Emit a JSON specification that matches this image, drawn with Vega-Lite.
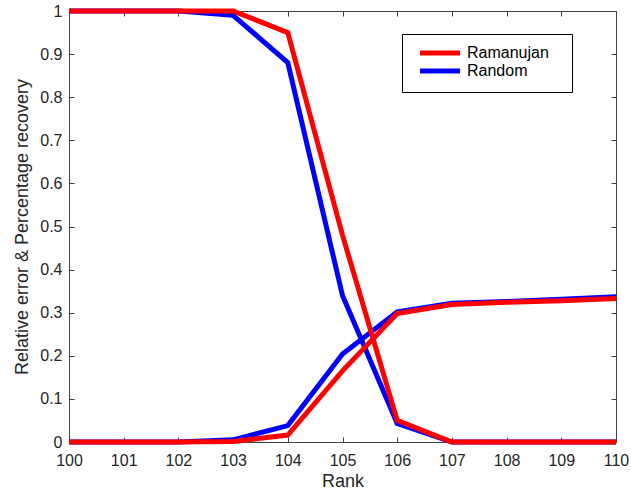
{
  "$schema": "https://vega.github.io/schema/vega-lite/v6.json",
  "width": 547,
  "height": 431,
  "autosize": {"type": "none"},
  "padding": {"left": 69, "top": 11, "right": 15, "bottom": 54},
  "background": "white",
  "config": {
    "view": {"stroke": "#404040", "strokeWidth": 1},
    "font": "Liberation Sans",
    "axis": {
      "grid": false,
      "domainColor": "#404040",
      "tickColor": "#404040",
      "tickSize": -5,
      "labelFlush": false,
      "labelFont": "Liberation Sans",
      "titleFont": "Liberation Sans",
      "labelFontSize": 16,
      "titleFontSize": 18,
      "labelColor": "#262626",
      "titleColor": "#262626",
      "titleFontWeight": "normal"
    }
  },
  "data": {
    "values": [
      {"rank": 100, "method": "Ramanujan", "metric": "recovery", "value": 1},
      {"rank": 101, "method": "Ramanujan", "metric": "recovery", "value": 1},
      {"rank": 102, "method": "Ramanujan", "metric": "recovery", "value": 1},
      {"rank": 103, "method": "Ramanujan", "metric": "recovery", "value": 1},
      {"rank": 104, "method": "Ramanujan", "metric": "recovery", "value": 0.95},
      {"rank": 105, "method": "Ramanujan", "metric": "recovery", "value": 0.48},
      {"rank": 106, "method": "Ramanujan", "metric": "recovery", "value": 0.05},
      {"rank": 107, "method": "Ramanujan", "metric": "recovery", "value": 0},
      {"rank": 108, "method": "Ramanujan", "metric": "recovery", "value": 0},
      {"rank": 109, "method": "Ramanujan", "metric": "recovery", "value": 0},
      {"rank": 110, "method": "Ramanujan", "metric": "recovery", "value": 0},
      {"rank": 100, "method": "Random", "metric": "recovery", "value": 1},
      {"rank": 101, "method": "Random", "metric": "recovery", "value": 1},
      {"rank": 102, "method": "Random", "metric": "recovery", "value": 1},
      {"rank": 103, "method": "Random", "metric": "recovery", "value": 0.99},
      {"rank": 104, "method": "Random", "metric": "recovery", "value": 0.88},
      {"rank": 105, "method": "Random", "metric": "recovery", "value": 0.34},
      {"rank": 106, "method": "Random", "metric": "recovery", "value": 0.043},
      {"rank": 107, "method": "Random", "metric": "recovery", "value": 0},
      {"rank": 108, "method": "Random", "metric": "recovery", "value": 0},
      {"rank": 109, "method": "Random", "metric": "recovery", "value": 0},
      {"rank": 110, "method": "Random", "metric": "recovery", "value": 0},
      {"rank": 100, "method": "Ramanujan", "metric": "error", "value": 0},
      {"rank": 101, "method": "Ramanujan", "metric": "error", "value": 0},
      {"rank": 102, "method": "Ramanujan", "metric": "error", "value": 0},
      {"rank": 103, "method": "Ramanujan", "metric": "error", "value": 0.001},
      {"rank": 104, "method": "Ramanujan", "metric": "error", "value": 0.016},
      {"rank": 105, "method": "Ramanujan", "metric": "error", "value": 0.165},
      {"rank": 106, "method": "Ramanujan", "metric": "error", "value": 0.298},
      {"rank": 107, "method": "Ramanujan", "metric": "error", "value": 0.319},
      {"rank": 108, "method": "Ramanujan", "metric": "error", "value": 0.324},
      {"rank": 109, "method": "Ramanujan", "metric": "error", "value": 0.328},
      {"rank": 110, "method": "Ramanujan", "metric": "error", "value": 0.333},
      {"rank": 100, "method": "Random", "metric": "error", "value": 0},
      {"rank": 101, "method": "Random", "metric": "error", "value": 0},
      {"rank": 102, "method": "Random", "metric": "error", "value": 0},
      {"rank": 103, "method": "Random", "metric": "error", "value": 0.005},
      {"rank": 104, "method": "Random", "metric": "error", "value": 0.038},
      {"rank": 105, "method": "Random", "metric": "error", "value": 0.204},
      {"rank": 106, "method": "Random", "metric": "error", "value": 0.302},
      {"rank": 107, "method": "Random", "metric": "error", "value": 0.322},
      {"rank": 108, "method": "Random", "metric": "error", "value": 0.326},
      {"rank": 109, "method": "Random", "metric": "error", "value": 0.331},
      {"rank": 110, "method": "Random", "metric": "error", "value": 0.337}
    ]
  },
  "resolve": {"axis": {"x": "independent", "y": "independent"}},
  "layer": [
    {
      "transform": [{"filter": "datum.method === 'Random'"}],
      "mark": {"type": "line", "strokeWidth": 5, "strokeJoin": "miter", "clip": false},
      "encoding": {
        "x": {"field": "rank", "type": "quantitative", "scale": {"domain": [100, 110], "nice": false, "zero": false},
              "axis": {"orient": "bottom", "values": [100,101,102,103,104,105,106,107,108,109,110], "format": "d", "title": "Rank", "labelPadding": 15, "titlePadding": 4}},
        "y": {"field": "value", "type": "quantitative", "scale": {"domain": [0, 1], "nice": false},
              "axis": {"orient": "left", "values": [0,0.1,0.2,0.3,0.4,0.5,0.6,0.7,0.8,0.9,1], "labelExpr": "datum.value == 0 ? '0' : datum.value == 1 ? '1' : format(datum.value, '.1f')", "title": "Relative error & Percentage recovery", "labelPadding": 12, "titlePadding": 8}},
        "color": {"field": "method", "type": "nominal",
                  "scale": {"domain": ["Ramanujan", "Random"], "range": ["#ff0000", "#0000ff"]},
                  "legend": {"title": null, "orient": "none", "legendX": 333, "legendY": 23,
                             "symbolType": "M-0.2,0H7.8", "symbolStrokeWidth": 5, "symbolSize": 100,
                             "labelFontSize": 16, "labelFont": "Liberation Sans", "labelColor": "#000000",
                             "labelExpr": "datum.label + '\u2800'",
                             "strokeColor": "#000000", "fillColor": "white", "padding": 11, "rowPadding": -3, "labelOffset": 38, "cornerRadius": 0}},
        "detail": {"field": "metric"}
      }
    },
    {
      "transform": [{"filter": "datum.method === 'Ramanujan'"}],
      "mark": {"type": "line", "strokeWidth": 5, "strokeJoin": "miter", "clip": false},
      "encoding": {
        "x": {"field": "rank", "type": "quantitative",
              "axis": {"orient": "top", "values": [100,101,102,103,104,105,106,107,108,109,110], "labels": false, "title": null, "domain": false}},
        "y": {"field": "value", "type": "quantitative",
              "axis": {"orient": "right", "values": [0,0.1,0.2,0.3,0.4,0.5,0.6,0.7,0.8,0.9,1], "labels": false, "title": null, "domain": false}},
        "color": {"field": "method", "type": "nominal"},
        "detail": {"field": "metric"}
      }
    }
  ]
}
